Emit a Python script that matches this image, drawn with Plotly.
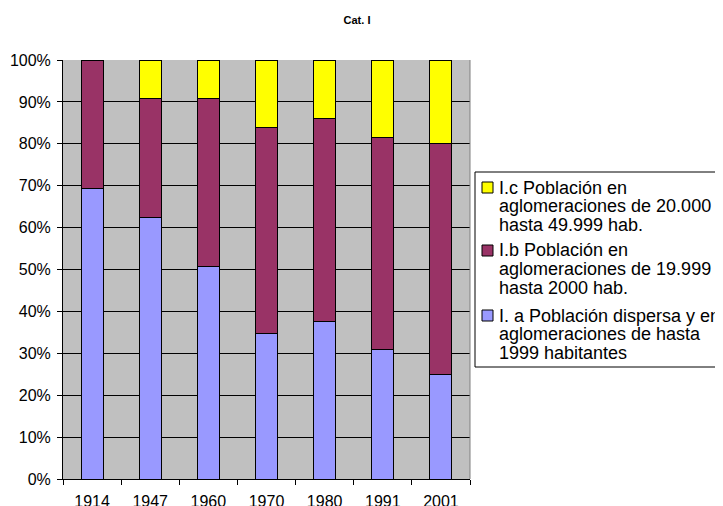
import plotly.graph_objects as go

YEARS = ["1914", "1947", "1960", "1970", "1980", "1991", "2001"]

# share (%) of each category per year
CAT_A = [69.3, 62.3, 50.8, 34.8, 37.6, 30.9, 25.0]
CAT_B = [30.7, 28.4, 39.9, 49.1, 48.4, 50.7, 55.0]
CAT_C = [0.0, 9.3, 9.3, 16.1, 14.0, 18.4, 20.0]

NAME_A = "I. a Población dispersa y en<br>aglomeraciones de hasta<br>1999 habitantes"
NAME_B = "I.b Población en<br>aglomeraciones de 19.999<br>hasta 2000 hab."
NAME_C = "I.c Población en<br>aglomeraciones de 20.000<br>hasta 49.999 hab."

BLUE = "#9999FF"
PLUM = "#993366"
YELLOW = "#FFFF00"
GREY = "#C0C0C0"
FONT = "Liberation Sans, Arial, sans-serif"

# plot area in figure pixels (page body adds an 8px offset)
PX_L, PX_R, PX_T, PX_B = 55, 462, 52, 471


def px_x(X):
    return (X - PX_L) / (PX_R - PX_L)


def px_y(Y):
    return (PX_B - Y) / (PX_B - PX_T)


fig = go.Figure()
series = [(CAT_A, NAME_A, BLUE), (CAT_B, NAME_B, PLUM), (CAT_C, NAME_C, YELLOW)]
for vals, name, col in series:
    fig.add_trace(go.Bar(
        x=YEARS, y=vals, name=name.replace("<br>", " "), showlegend=False,
        marker=dict(color=col, line=dict(color="black", width=1)),
    ))

fig.update_layout(
    width=723, height=506,
    barmode="stack", bargap=0.62,
    paper_bgcolor="white", plot_bgcolor=GREY,
    margin=dict(l=PX_L, r=723 - PX_R, t=PX_T, b=506 - PX_B, autoexpand=False),
    font=dict(family=FONT, size=16, color="black"),
    title=dict(text="<b>Cat. I</b>", font=dict(size=11),
               x=349 / 723, xref="container", xanchor="center",
               y=1 - 12 / 506, yref="container", yanchor="middle"),
)

fig.update_yaxes(
    range=[0, 100], tickvals=[0, 10, 20, 30, 40, 50, 60, 70, 80, 90, 100],
    ticktext=[f"{v}%" for v in range(0, 101, 10)],
    showgrid=True, gridcolor="black", gridwidth=1,
    showline=True, linecolor="black", linewidth=1,
    ticks="outside", ticklen=5, tickcolor="black", ticklabelstandoff=3,
    zeroline=False, automargin=False,
)
fig.update_xaxes(
    showgrid=False, showline=True, linecolor="black", linewidth=1,
    ticks="outside", ticklen=5, tickcolor="black", tickson="boundaries",
    ticklabelstandoff=8, automargin=False,
)

# grey right border of the plot area
fig.add_shape(type="line", xref="paper", yref="paper", x0=1, x1=1, y0=0, y1=1,
              line=dict(color="#808080", width=1))

# legend box (Excel style, runs off the right edge)
fig.add_shape(type="rect", xref="paper", yref="paper",
              x0=px_x(467), x1=px_x(760), y0=px_y(164), y1=px_y(359),
              line=dict(color="black", width=1), fillcolor="white", layer="above")

entry_tops = [174, 237, 302]
for (vals, name, col), top in zip(series[::-1], entry_tops):
    fig.add_shape(type="rect", xref="paper", yref="paper",
                  x0=px_x(474), x1=px_x(485), y0=px_y(top), y1=px_y(top + 11),
                  line=dict(color="black", width=1), fillcolor=col, layer="above")
    for i, line in enumerate(name.split("<br>")):
        fig.add_annotation(
            text=line, xref="paper", yref="paper",
            x=px_x(489), y=px_y(top + 5.5 + i * 18.5),
            xanchor="left", yanchor="middle", showarrow=False,
            font=dict(family=FONT, size=18, color="black"),
        )

fig.write_html("out.html")
